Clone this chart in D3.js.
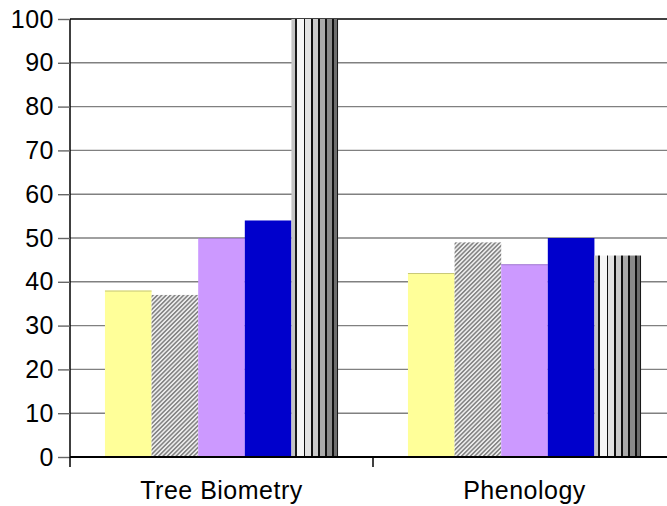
<!DOCTYPE html>
<html>
<head>
<meta charset="utf-8">
<script src="https://cdn.jsdelivr.net/npm/d3@7"></script>
<style>
  html, body { margin: 0; padding: 0; background: #fff; }
  svg { display: block; }
  text { font-family: Arial, "Liberation Sans", sans-serif; fill: #000; }
</style>
</head>
<body>
<svg id="chart" width="667" height="506"></svg>
<script>
// Chart data
const categories = ["Tree Biometry", "Phenology"];
const seriesNames = ["S1", "S2", "S3", "S4", "S5"];
const seriesValues = [
  [38, 42],   // S1
  [37, 49],   // S2
  [50, 44],   // S3
  [54, 50],   // S4
  [100, 46]   // S5
];
const yTicks = [0, 10, 20, 30, 40, 50, 60, 70, 80, 90, 100];

const svg = d3.select("#chart");
const defs = svg.append("defs");

// Plot frame
const plotLeft = 70, plotRight = 676, plotTop = 19, plotBottom = 457;

const x0 = d3.scaleBand().domain(categories).range([plotLeft, plotRight]).paddingInner(0).paddingOuter(0);
const x1 = d3.scaleBand().domain(seriesNames).range([0, x0.bandwidth()]).paddingInner(0).paddingOuter(0.75);
const y = d3.scaleLinear().domain([0, 100]).range([plotBottom, plotTop]);

// Diagonal hatch pattern
const hatch = defs.append("pattern")
  .attr("id", "hatch")
  .attr("patternUnits", "userSpaceOnUse")
  .attr("width", 3.1).attr("height", 3.1)
  .attr("patternTransform", "rotate(45)");
hatch.append("rect").attr("width", 3.1).attr("height", 3.1).attr("fill", "#f0f0f0");
hatch.append("rect").attr("width", 1.6).attr("height", 3.1).attr("fill", "#858585");

// Vertical stripe fill
const stripeStops = [
  [0.00, 0.08, "#c4c4c4"],
  [0.08, 0.12, "#1a1a1a"],
  [0.12, 0.26, "#f6f6f6"],
  [0.26, 0.30, "#111111"],
  [0.30, 0.42, "#e2e2e2"],
  [0.42, 0.46, "#111111"],
  [0.46, 0.58, "#cacaca"],
  [0.58, 0.62, "#111111"],
  [0.62, 0.73, "#aaaaaa"],
  [0.73, 0.77, "#111111"],
  [0.77, 0.87, "#8a8a8a"],
  [0.87, 0.91, "#111111"],
  [0.91, 0.97, "#6e6e6e"],
  [0.97, 1.00, "#1a1a1a"]
];
const stripes = defs.append("linearGradient")
  .attr("id", "stripes")
  .attr("x1", 0).attr("x2", 1).attr("y1", 0).attr("y2", 0);
stripeStops.forEach(([a, b, c]) => {
  stripes.append("stop").attr("offset", a).attr("stop-color", c);
  stripes.append("stop").attr("offset", b).attr("stop-color", c);
});

const fills = ["#FFFF99", "url(#hatch)", "#CC99FF", "#0000CC", "url(#stripes)"];
const topEdges = ["#c8c878", null, "#a680d0", null, null];

// Gridlines
svg.append("g").selectAll("line")
  .data(yTicks.filter(d => d > 0))
  .join("line")
  .attr("x1", plotLeft).attr("x2", plotRight)
  .attr("y1", d => y(d)).attr("y2", d => y(d))
  .attr("stroke", d => d === 100 ? "#000" : "#808080")
  .attr("stroke-width", 1.4);

// Bars
const groups = svg.append("g").selectAll("g")
  .data(categories)
  .join("g")
  .attr("transform", d => `translate(${x0(d)},0)`);

groups.each(function(cat, ci) {
  const g = d3.select(this);
  seriesNames.forEach((s, si) => {
    const v = seriesValues[si][ci];
    g.append("rect")
      .attr("x", x1(s))
      .attr("y", y(v))
      .attr("width", x1.bandwidth())
      .attr("height", y(0) - y(v))
      .attr("fill", fills[si]);
    if (topEdges[si]) {
      g.append("line")
        .attr("x1", x1(s)).attr("x2", x1(s) + x1.bandwidth())
        .attr("y1", y(v) + 0.5).attr("y2", y(v) + 0.5)
        .attr("stroke", topEdges[si]).attr("stroke-width", 1);
    }
  });
});

// Y axis
const yAxis = svg.append("g")
  .attr("transform", `translate(${plotLeft},0)`)
  .call(d3.axisLeft(y).tickValues(yTicks).tickSize(12).tickPadding(4).tickFormat(d3.format("d")));
yAxis.select(".domain").attr("stroke", "#000").attr("stroke-width", 1.5).attr("d", `M0,${plotTop}V${plotBottom}`);
yAxis.selectAll(".tick line").attr("stroke", "#666").attr("stroke-width", 1.4);
yAxis.selectAll(".tick text")
  .attr("font-size", 25)
  .attr("letter-spacing", 0.5)
  .attr("font-family", "Arial, 'Liberation Sans', sans-serif")
  .attr("fill", "#000");

// X axis
svg.append("line")
  .attr("x1", plotLeft).attr("x2", plotRight)
  .attr("y1", plotBottom).attr("y2", plotBottom)
  .attr("stroke", "#000").attr("stroke-width", 2);
svg.append("g").selectAll("line")
  .data([plotLeft, ...categories.map(c => x0(c) + x0.bandwidth())])
  .join("line")
  .attr("x1", d => d).attr("x2", d => d)
  .attr("y1", plotBottom).attr("y2", plotBottom + 10)
  .attr("stroke", "#000").attr("stroke-width", 1.5);

svg.append("g").selectAll("text")
  .data(categories)
  .join("text")
  .attr("x", d => x0(d) + x0.bandwidth() / 2)
  .attr("y", 499)
  .attr("text-anchor", "middle")
  .attr("font-size", 25)
  .attr("letter-spacing", 0.5)
  .text(d => d);
</script>
</body>
</html>
